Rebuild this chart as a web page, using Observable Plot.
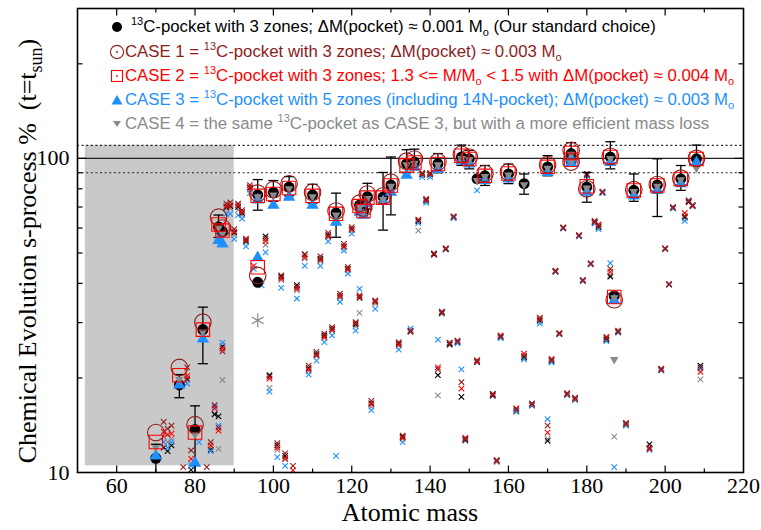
<!DOCTYPE html>
<html><head><meta charset="utf-8">
<script src="https://cdn.jsdelivr.net/npm/d3@7"></script>
<script src="https://cdn.jsdelivr.net/npm/@observablehq/plot@0.6"></script>
<style>
body{margin:0;background:#fff;}
#wrap{position:relative;width:761px;height:530px;overflow:hidden;}
.lg{position:absolute;white-space:nowrap;font-family:"Liberation Sans",Arial,Helvetica,sans-serif;font-size:16.8px;line-height:20px;height:20px;}
.lg sup{font-size:11px;vertical-align:7px;line-height:0;}
.lg sub{font-size:11px;vertical-align:-4px;line-height:0;}
.ic{position:absolute;}
</style></head><body><div id="wrap"></div>
<script>
// ---------- data ----------
// big symbols: s-only isotopes
const bigA   = [70,76,80,82,86,87,96,96,100,104,110,116,122,123,124,128,130,134,136,142,148,150,152,154,160,164,170,176,176,180,186,187,187,192,198,204,208];
const bigStd = [11.1,19.0,13.7,28.5,60.5,58.5,76.5,40.3,78.0,81.0,76.5,67.0,71.0,68.0,75.5,75.3,82.2,96.2,97.3,96.2,101,99.7,86.1,88.0,89.2,83.1,93.9,103.6,98.0,81.0,101,36.5,null,79.1,82.2,86.1,99.7];
const bigC1  = [13.4,21.6,14.2,30.1,65.0,60.0,77.5,42.4,79.5,83.0,78.0,68.0,72.0,69.5,77.0,76.0,84.0,98.0,99.5,97.5,103,101,null,89.5,90.5,null,95.5,106,97.3,80.0,101.5,35.5,null,79.5,82.5,86.5,100];
const bigC2  = [12.5,20.4,13.4,28.5,61.6,58.9,76.0,45.0,77.0,80.5,76.0,66.6,70.5,68.0,75.0,75.0,82.0,95.0,97.0,96.0,102,99.5,null,88.0,89.5,null,94.0,104,99.0,81.5,101,36.2,null,79.0,82.0,86.0,99.5];
const bigC3  = [11.3,19.0,10.7,26.6,54.8,53.4,73.7,48.3,70.9,75.3,70.9,62.7,67.4,66.0,71.8,73.0,78.1,88.4,93.9,92.2,98.2,96.0,null,85.0,86.0,null,90.2,100,97.0,78.0,97.0,35.3,null,76.0,79.0,83.0,97.0];
const bigC4  = [12.0,19.8,13.2,28.0,60.0,57.5,75.5,null,76.5,80.0,75.5,66.0,70.0,67.0,74.5,74.0,81.5,95.5,96.5,95.5,100,99.0,85.0,87.5,88.5,82.5,93.0,103,98.0,80.5,100,36.0,22.9,78.5,81.5,85.5,93.0];
const errLo  = [9.5,17.3,9.5,22.2,56.0,null,68.4,null,73.0,76.0,72.0,56.1,null,null,69.0,59.1,66.1,90.0,92.0,90.0,95.0,92.6,null,82.0,83.1,76.9,88.0,97.0,null,72.5,92.6,null,null,73.0,65.3,79.1,95.0];
const errHi  = [12.3,20.5,16.3,33.6,66.0,null,85.6,null,85.0,87.5,82.7,77.5,null,null,83.3,90.2,101,106.6,107,103.6,110.2,106,null,94.9,95.9,89.2,102,112.2,null,90.2,113,null,null,89.2,99.7,94.9,110.2];
// single gray asterisk
const starA = [96];
const starV = [30.5];
// small crosses: other isotopes
const crA  = [72,73,74,77,78,79,81,83,84,85,86,87,88,89,90,91,92,93,94,95,97,98,99,101,102,103,105,106,108,109,111,112,113,114,115,116,117,118,119,120,121,122,125,126,132,133,135,137,138,139,140,141,142,143,144,145,146,147,148,149,152,152,156,157,158,162,164,166,168,170,171,172,173,174,175,177,178,179,180,181,182,183,184,185,186,187,188,190,196,199,200,201,202,205,206,207,209];
const crBk = [12.0,11.7,12.2,null,19.8,10.2,null,null,11.8,15.3,15.1,25.2,70.0,70.5,58.0,70.0,67.0,54.5,80.5,null,null,56.5,20.4,12.2,42.0,11.3,null,39.5,49.5,21.5,23.8,48.0,27.3,57.0,28.6,null,36.5,52.5,44.5,59.5,29.6,36.0,16.6,35.0,25.7,13.0,28.3,63.0,89.0,73.5,89.0,49.5,20.4,32.2,51.4,25.6,65.0,26.0,17.4,12.7,null,22.5,17.6,10.9,27.0,15.7,23.3,16.4,30.5,12.6,22.7,43.6,27.6,60.0,17.7,17.1,56.7,40.8,88.5,46.1,62.5,60.5,77.8,26.5,42.0,null,28.0,14.2,12.3,21.2,51.5,39.7,69.5,65.0,72.5,70.9,21.9];
const crC1 = [14.5,13.8,14.1,10.4,21.6,11.75,null,10.4,12.5,16.4,13.9,24.3,71.8,72.4,59.5,71.8,68.4,55.5,82.2,null,null,55.5,20.2,12.4,42.4,11.5,10.5,39.0,49.5,21.9,24.2,48.8,27.7,57.9,29.0,null,37.1,53.4,45.1,60.4,30.1,36.6,16.9,35.3,26.0,13.1,28.1,63.6,89.9,74.3,89.9,49.8,21.3,32.5,51.6,25.8,65.3,26.3,19.4,12.8,null,22.8,17.8,10.95,27.1,15.9,23.5,16.6,31.1,14.1,22.8,43.9,27.8,60.3,17.9,17.3,57.0,41.0,89.2,46.3,63.2,61.0,78.2,26.8,44.5,null,28.2,14.4,12.0,21.4,51.7,39.8,70.0,65.5,73.0,71.0,21.6];
const crC2 = [13.5,13.2,13.3,null,20.3,11.05,null,null,12.2,16.0,13.6,24.8,70.5,71.0,58.5,70.9,67.5,55.0,81.0,45.5,null,54.5,19.9,12.0,41.5,11.1,10.15,38.5,48.5,21.3,23.6,47.5,27.0,56.5,28.5,null,36.4,52.5,44.3,59.3,29.9,36.2,16.5,35.0,25.6,12.9,28.2,63.8,89.3,73.8,89.3,49.6,21.6,32.4,51.7,25.9,65.4,26.2,18.5,12.9,null,22.6,17.7,10.9,27.3,16.0,23.9,16.5,30.8,13.4,23.0,43.8,27.7,60.2,17.8,17.2,56.9,41.0,89.0,46.2,62.8,61.6,78.4,27.0,43.5,null,28.3,14.3,11.9,21.3,51.6,39.8,69.9,67.0,73.2,70.6,20.9];
const crC3 = [12.5,12.0,12.5,null,19.2,10.5,12.5,null,11.7,16.2,14.1,25.9,66.6,66.6,55.3,66.0,64.3,52.5,77.5,44.5,39.4,50.2,18.1,11.2,38.7,10.5,null,35.8,45.5,20.5,22.7,45.5,26.0,54.4,27.3,11.3,34.9,50.9,43.0,57.6,28.3,38.4,15.8,33.2,24.6,12.5,28.7,62.2,87.2,72.2,87.2,49.8,26.5,32.4,51.6,25.8,64.5,25.8,21.3,12.8,79.1,22.6,17.8,10.9,26.8,15.7,22.9,16.4,29.8,14.8,22.4,43.6,27.6,60.0,17.7,17.1,56.6,40.8,88.0,46.1,62.0,59.5,77.6,26.2,46.4,10.4,28.1,14.2,11.8,21.2,51.5,39.6,69.5,63.2,73.7,70.3,21.4];
const crC4 = [13.0,12.5,12.8,null,20.0,10.7,null,null,12.0,15.4,11.9,19.7,69.0,69.5,57.0,68.5,66.0,54.0,79.5,null,null,53.0,18.6,11.8,41.0,11.0,null,38.0,48.0,21.0,23.5,47.0,26.8,56.0,28.2,null,36.0,52.0,44.0,59.0,29.2,32.2,16.2,34.5,25.3,12.8,28.0,58.9,88.5,73.0,88.5,49.3,17.6,32.0,51.2,25.5,64.8,25.9,null,12.6,null,22.4,17.5,10.8,26.9,15.6,23.1,16.3,30.3,12.8,22.6,43.5,27.5,59.8,17.6,17.0,56.5,40.6,88.5,46.0,62.3,60.2,77.5,26.4,42.5,13.0,27.9,14.1,11.9,21.1,51.4,39.6,69.3,64.5,72.8,70.5,19.8];
// annotations
const shade = [{x1: 52, x2: 90, y1: 10.5, y2: 110}];
const refSolid = [100];
const refDotted = [90, 110];
// ticks
const xLabelTicks = [60,80,100,120,140,160,180,200,220];
const xMajor = [60,80,100,120,140,160,180,200];
const xMinor = [70,90,110,130,150,170,190,210];
const yLabelTicks = [10,100];
const yMajor = [100];
const yMinor = [20,30,40,50,60,70,80,90,200];
// legend
const legendLines = [
  "<sup>13</sup>C-pocket with 3 zones; ΔM(pocket) ≈ 0.001 M<sub>o</sub> (Our standard choice)",
  "CASE 1 = <sup>13</sup>C-pocket with 3 zones; ΔM(pocket) ≈ 0.003 M<sub>o</sub>",
  "CASE 2 = <sup>13</sup>C-pocket with 3 zones; 1.3 &lt;= M/M<sub>o</sub> &lt; 1.5 with ΔM(pocket) ≈ 0.004 M<sub>o</sub>",
  "CASE 3 = <sup>13</sup>C-pocket with 5 zones (including 14N-pocket); ΔM(pocket) ≈ 0.003 M<sub>o</sub>",
  "CASE 4 = the same <sup>13</sup>C-pocket as CASE 3, but with a more efficient mass loss"
];

// ---------- styling ----------
const C = {std:"#000000", c1:"#8e1c1c", c2:"#ff0000", c3:"#1e8fff", c4:"#8a8a8a"};
const serif = "'Liberation Serif','Times New Roman',Times,serif";

const pts = (A, V) => A.map((a, i) => ({a, v: V[i]})).filter(d => d.v != null);
const triDown = {draw(ctx, size) {
  const s = Math.sqrt(size * 4 / Math.sqrt(3)), h = s * Math.sqrt(3) / 2;
  ctx.moveTo(-s / 2, -h / 3); ctx.lineTo(s / 2, -h / 3); ctx.lineTo(0, 2 * h / 3); ctx.closePath();
}};
const seg = (dx, dy) => ({draw(ctx) { ctx.moveTo(0, 0); ctx.lineTo(dx, dy); }});
const cap = {draw(ctx) { ctx.moveTo(-5, 0); ctx.lineTo(5, 0); }};

const errRows = bigA.map((a, i) => ({a, lo: errLo[i], hi: errHi[i]})).filter(d => d.lo != null && d.hi != null);

const crossMark = (V, color) => Plot.dot(pts(crA, V), {x: "a", y: "v", symbol: "times", r: 2.6, stroke: color, strokeWidth: 1.1});
const tickDot = (data, opts) => Plot.dot(data, {fill: "none", stroke: "black", strokeWidth: 1.2, ...opts});

const chart = Plot.plot({
  width: 761, height: 530,
  marginLeft: 77, marginRight: 18, marginTop: 8, marginBottom: 58,
  style: {fontFamily: serif, fontSize: "22px", background: "white", color: "black"},
  x: {domain: [50, 220]},
  y: {type: "log", domain: [10, 300]},
  marks: [
    Plot.rect(shade, {x1: "x1", x2: "x2", y1: "y1", y2: "y2", fill: "#c9c9c9"}),
    Plot.ruleY(refSolid, {stroke: "#222", strokeWidth: 1.2}),
    Plot.ruleY(refDotted, {stroke: "#222", strokeWidth: 1.1, strokeDasharray: "2,2.6"}),
    crossMark(crC4, C.c4),
    crossMark(crBk, C.std),
    crossMark(crC3, C.c3),
    crossMark(crC2, C.c2),
    crossMark(crC1, C.c1),
    Plot.dot(starA.map((a, i) => ({a, v: starV[i]})), {x: "a", y: "v", symbol: "asterisk", r: 6.5, stroke: C.c4, strokeWidth: 1.2}),
    Plot.ruleX(errRows, {x: "a", y1: "lo", y2: "hi", stroke: "black", strokeWidth: 1.3, clip: true}),
    Plot.dot(errRows, {x: "a", y: "lo", symbol: cap, stroke: "black", fill: "none", strokeWidth: 1.3, clip: true}),
    Plot.dot(errRows, {x: "a", y: "hi", symbol: cap, stroke: "black", fill: "none", strokeWidth: 1.3, clip: true}),
    Plot.dot(pts(bigA, bigStd), {x: "a", y: "v", r: 5.5, fill: C.std}),
    Plot.dot(pts(bigA, bigC3), {x: "a", y: "v", symbol: "triangle", r: 4.6, fill: C.c3}),
    Plot.dot(pts(bigA, bigC4), {x: "a", y: "v", symbol: triDown, r: 3.2, fill: C.c4}),
    Plot.dot(pts(bigA, bigC1), {x: "a", y: "v", r: 8.3, stroke: C.c1, strokeWidth: 1.1, fill: "none"}),
    Plot.dot(pts(bigA, bigC2), {x: "a", y: "v", symbol: "square", r: 7.6, stroke: C.c2, strokeWidth: 1.1, fill: "none"}),
    // axes
    Plot.axisX(xLabelTicks, {tickSize: 0, tickPadding: 5, fontSize: 22, fontFamily: serif, label: null, tickFormat: d => String(d)}),
    Plot.axisY(yLabelTicks, {tickSize: 0, tickPadding: 8, fontSize: 22, fontFamily: serif, label: null, tickFormat: d => String(d)}),
    tickDot(xMajor, {x: d => d, frameAnchor: "bottom", symbol: seg(0, -7)}),
    tickDot(xMinor, {x: d => d, frameAnchor: "bottom", symbol: seg(0, -4)}),
    tickDot(xMajor, {x: d => d, frameAnchor: "top", symbol: seg(0, 7)}),
    tickDot(xMinor, {x: d => d, frameAnchor: "top", symbol: seg(0, 4)}),
    tickDot(yMajor, {y: d => d, frameAnchor: "left", symbol: seg(9, 0)}),
    tickDot(yMinor, {y: d => d, frameAnchor: "left", symbol: seg(5, 0)}),
    tickDot(yMajor, {y: d => d, frameAnchor: "right", symbol: seg(-9, 0)}),
    tickDot(yMinor, {y: d => d, frameAnchor: "right", symbol: seg(-5, 0)}),
    Plot.frame({stroke: "black", strokeWidth: 1.6})
  ]
});

const svg = d3.select(chart);
svg.append("text")
  .attr("x", 410).attr("y", 521).attr("text-anchor", "middle")
  .attr("font-family", serif).attr("font-size", 26).attr("fill", "black")
  .text("Atomic mass");
const yl = svg.append("text")
  .attr("transform", "translate(36,251) rotate(-90)").attr("text-anchor", "middle")
  .attr("font-family", serif).attr("font-size", 26).attr("fill", "black");
yl.append("tspan").text("Chemical Evolution s-process %  (t=t");
yl.append("tspan").attr("font-size", 18).attr("dy", 6).text("sun");
yl.append("tspan").attr("dy", -6).text(")");

const wrap = document.getElementById("wrap");
wrap.appendChild(chart);

// legend (inside the frame)
const lgColors = [C.std, C.c1, C.c2, C.c3, "#8a8a8a"];
const lgY = [27, 52, 76, 100, 124];
const icons = [
  `<svg width="14" height="14"><circle cx="7" cy="7" r="5" fill="#000"/></svg>`,
  `<svg width="16" height="16"><circle cx="8" cy="8" r="6.6" fill="none" stroke="${C.c1}" stroke-width="1.1"/><circle cx="8" cy="8" r="1" fill="${C.c1}"/></svg>`,
  `<svg width="16" height="16"><rect x="2.5" y="2.5" width="11" height="11" fill="none" stroke="${C.c2}" stroke-width="1.1"/><circle cx="8" cy="8" r="0.9" fill="${C.c2}"/></svg>`,
  `<svg width="16" height="16"><path d="M2.5,12.5L13.5,12.5L8,3Z" fill="${C.c3}"/></svg>`,
  `<svg width="16" height="16"><path d="M4,5L12,5L8,11Z" fill="${C.c4}"/></svg>`
];
const iconX = [110, 109, 109, 109, 109];
const textX = [131, 125, 125, 125, 125];
legendLines.forEach((html, i) => {
  const ic = document.createElement("div");
  ic.className = "ic";
  ic.style.left = iconX[i] + "px";
  ic.style.top = (lgY[i] - (i === 0 ? 7 : 8)) + "px";
  ic.innerHTML = icons[i];
  wrap.appendChild(ic);
  const d = document.createElement("div");
  d.className = "lg";
  d.style.left = textX[i] + "px";
  d.style.top = (lgY[i] - 10) + "px";
  d.style.color = lgColors[i];
  d.innerHTML = html;
  wrap.appendChild(d);
});
</script></body></html>
